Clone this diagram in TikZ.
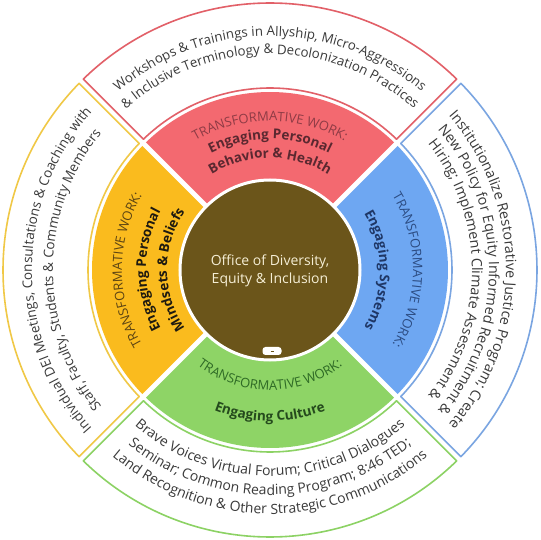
\documentclass[tikz,border=0pt]{standalone}
\usepackage{fontspec}
\setmainfont{Open Sans}
\usepackage{xcolor}
\usepackage{tikz}
\usetikzlibrary{decorations.text}
\definecolor{PinkBehavior}{RGB}{243,105,112}
\definecolor{GoldMindsets}{RGB}{250,187,30}
\definecolor{BlueSystems}{RGB}{110,167,242}
\definecolor{GreenCulture}{RGB}{142,212,102}
\definecolor{BrownOffice}{RGB}{107,85,26}
\definecolor{PinkLine}{RGB}{226,96,104}
\definecolor{GoldLine}{RGB}{240,200,70}
\definecolor{BlueLine}{RGB}{122,165,225}
\definecolor{GreenLine}{RGB}{140,210,100}
\definecolor{PinkWork}{RGB}{142,59,69}
\definecolor{PinkBold}{RGB}{90,40,48}
\definecolor{GoldWork}{RGB}{92,68,19}
\definecolor{GoldBold}{RGB}{30,26,16}
\definecolor{BlueWork}{RGB}{44,76,130}
\definecolor{BlueBold}{RGB}{31,55,102}
\definecolor{GreenWork}{RGB}{46,106,37}
\definecolor{GreenBold}{RGB}{37,74,29}
\definecolor{OuterText}{RGB}{58,58,58}
\definecolor{CreamText}{RGB}{245,238,213}
\newcommand{\workfont}{\fontsize{13}{15}\selectfont}
\newcommand{\boldfont}{\fontsize{13.5}{16}\selectfont\bfseries}
\newcommand{\topfont}{\fontsize{13.3}{15}\selectfont}
\newcommand{\leftfont}{\fontsize{13.5}{16}\selectfont}
\newcommand{\rightfont}{\fontsize{14.3}{16}\selectfont}
\newcommand{\bottomfont}{\fontsize{14}{16}\selectfont}
% annular sector: start angle, end angle, inner r, outer r, half gap (pt)
\newcommand{\sectorpath}[5]{({#1+asin(#5/#3)}:#3pt) -- ({#1+asin(#5/#4)}:#4pt)
  arc[start angle={#1+asin(#5/#4)},end angle={#2-asin(#5/#4)},radius=#4pt]
  -- ({#2-asin(#5/#3)}:#3pt)
  arc[start angle={#2-asin(#5/#3)},end angle={#1+asin(#5/#3)},radius=#3pt] -- cycle}
\tikzset{
  arctext/.style n args={3}{decorate,decoration={text along path,text align=center,
    text color=#1,text={|#2|#3}}},
  outerseg/.style={draw=#1,fill=white,line width=1.6pt,line join=round},
}

\begin{document}
\begin{tikzpicture}
  \useasboundingbox (-270pt,-270pt) rectangle (270pt,270pt);
  \fill[white] (-270pt,-270pt) rectangle (270pt,270pt);
  % outer ring
  \draw[outerseg=PinkLine] \sectorpath{45}{135}{182}{267}{3};
  \draw[outerseg=GoldLine] \sectorpath{135}{225}{182}{267}{3};
  \draw[outerseg=GreenLine] \sectorpath{225}{315}{182}{267}{3};
  \draw[outerseg=BlueLine] \sectorpath{-45}{45}{182}{267}{3};
  % middle ring
  \fill[PinkBehavior] \sectorpath{45}{135}{88}{178}{2.5};
  \fill[GoldMindsets] \sectorpath{135}{225}{88}{178}{2.5};
  \fill[GreenCulture] \sectorpath{225}{315}{88}{178}{2.5};
  \fill[BlueSystems] \sectorpath{-45}{45}{88}{178}{2.5};
  % office circle
  \draw[fill=BrownOffice,draw=white,line width=3pt] (0,0) circle (90pt);
  \node[text=CreamText,align=center,font=\fontsize{14}{18}\selectfont] (office) at (0,-1pt)
    {Office of Diversity,\\Equity \& Inclusion};
  \node[fill=white,rounded corners=3pt,minimum width=19pt,minimum height=8pt,inner sep=0pt]
    (pill) at (2pt,-81pt) {};
  \draw[BrownOffice,line width=0.8pt] ([xshift=-1.5pt]pill.center) -- ([xshift=1.5pt]pill.center);
  % behavior
  \path[arctext={PinkWork}{\workfont}{TRANSFORMATIVE WORK:}]
    (150:149pt) arc[start angle=150,end angle=30,radius=149pt];
  \path[arctext={PinkBold}{\boldfont}{Engaging Personal}]
    (150:131pt) arc[start angle=150,end angle=30,radius=131pt];
  \path[arctext={PinkBold}{\boldfont}{Behavior {\&} Health}]
    (150:112pt) arc[start angle=150,end angle=30,radius=112pt];
  % mindsets
  \path[arctext={GoldWork}{\workfont}{TRANSFORMATIVE WORK:}]
    (240:148pt) arc[start angle=240,end angle=120,radius=148pt];
  \path[arctext={GoldBold}{\boldfont}{Engaging Personal}]
    (240:124pt) arc[start angle=240,end angle=120,radius=124pt];
  \path[arctext={GoldBold}{\boldfont}{Mindsets {\&} Beliefs}]
    (240:103pt) arc[start angle=240,end angle=120,radius=103pt];
  % systems
  \path[arctext={BlueWork}{\workfont}{TRANSFORMATIVE WORK:}]
    (60:143pt) arc[start angle=60,end angle=-60,radius=143pt];
  \path[arctext={BlueBold}{\boldfont}{Engaging Systems}]
    (60:110pt) arc[start angle=60,end angle=-60,radius=110pt];
  % culture
  \path[arctext={GreenWork}{\workfont}{TRANSFORMATIVE WORK:}]
    (210:120pt) arc[start angle=210,end angle=330,radius=120pt];
  \path[arctext={GreenBold}{\boldfont}{Engaging Culture}]
    (210:151pt) arc[start angle=210,end angle=330,radius=151pt];
  % outer texts
  \path[arctext={OuterText}{\topfont}{Workshops {\&} Trainings in Allyship, Micro-Aggressions}]
    (170:234pt) arc[start angle=170,end angle=10,radius=234pt];
  \path[arctext={OuterText}{\topfont}{{\&} Inclusive Terminology {\&} Decolonization Practices}]
    (170:216pt) arc[start angle=170,end angle=10,radius=216pt];
  \path[arctext={OuterText}{\leftfont}{Individual DEI Meetings, Consultations {\&} Coaching with}]
    (260:238pt) arc[start angle=260,end angle=100,radius=238pt];
  \path[arctext={OuterText}{\leftfont}{Staff, Faculty, Students {\&} Community Members}]
    (260:217pt) arc[start angle=260,end angle=100,radius=217pt];
  \path[arctext={OuterText}{\rightfont}{Institutionalize Restorative Justice Program; Create}]
    (85:236pt) arc[start angle=85,end angle=-85,radius=236pt];
  \path[arctext={OuterText}{\rightfont}{New Policy for Equity Informed Recruitment {\&}}]
    (85:219pt) arc[start angle=85,end angle=-85,radius=219pt];
  \path[arctext={OuterText}{\rightfont}{Hiring; Implement Climate Assessment {\&}}]
    (85:202pt) arc[start angle=85,end angle=-85,radius=202pt];
  \path[arctext={OuterText}{\bottomfont}{Brave Voices Virtual Forum; Critical Dialogues}]
    (190:206pt) arc[start angle=190,end angle=350,radius=206pt];
  \path[arctext={OuterText}{\bottomfont}{Seminar; Common Reading Program; 8:46 TED;}]
    (190:225pt) arc[start angle=190,end angle=350,radius=225pt];
  \path[arctext={OuterText}{\bottomfont}{Land Recognition {\&} Other Strategic Communications}]
    (190:244pt) arc[start angle=190,end angle=350,radius=244pt];
\end{tikzpicture}
\end{document}
